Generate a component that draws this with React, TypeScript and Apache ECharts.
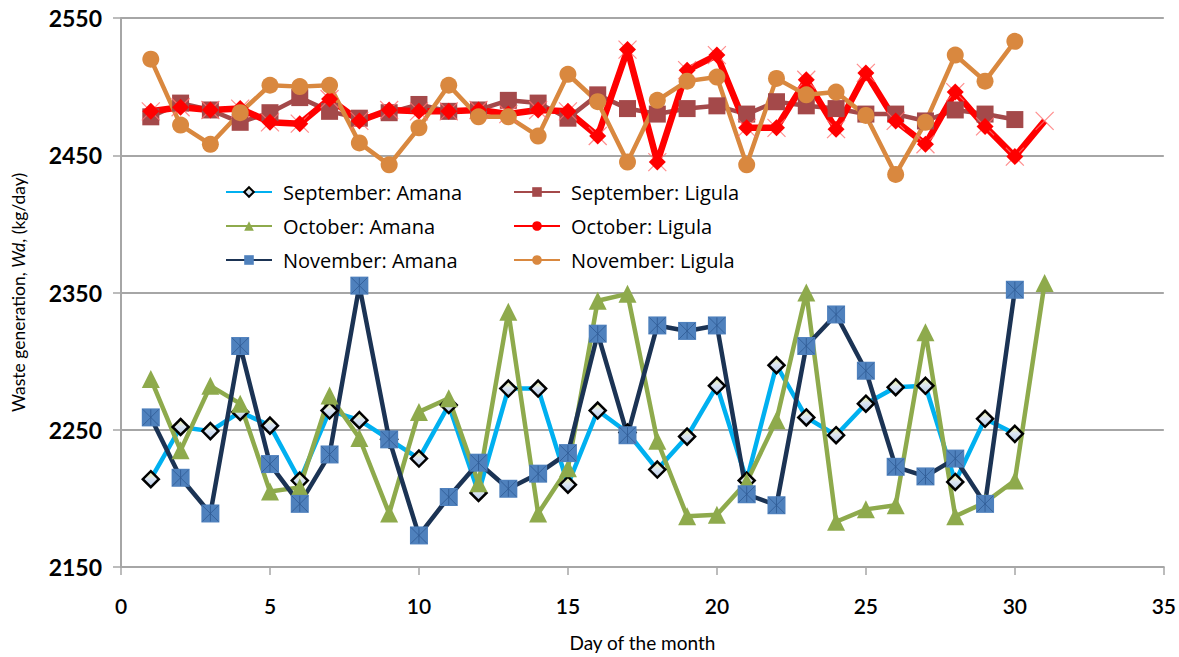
import React, { useEffect, useRef } from "react";
import * as echarts from "echarts";

const DAYS = [1, 2, 3, 4, 5, 6, 7, 8, 9, 10, 11, 12, 13, 14, 15, 16, 17, 18, 19, 20, 21, 22, 23, 24, 25, 26, 27, 28, 29, 30, 31];
const X_TICKS = [0, 5, 10, 15, 20, 25, 30, 35];
const Y_TICKS = [2150, 2250, 2350, 2450, 2550];

const SEPT_AMANA = [2214, 2252, 2249, 2263, 2253, 2213, 2264, 2257, 2243, 2229, 2268, 2204, 2280, 2280, 2210, 2264, 2248, 2221, 2245, 2282, 2213, 2297, 2259, 2246, 2269, 2281, 2282, 2212, 2258, 2247];
const OCT_AMANA = [2287, 2235, 2282, 2269, 2205, 2208, 2275, 2244, 2189, 2263, 2273, 2211, 2336, 2189, 2222, 2344, 2349, 2242, 2187, 2188, 2212, 2257, 2350, 2183, 2192, 2195, 2321, 2187, 2197, 2213, 2357];
const NOV_AMANA = [2259, 2215, 2189, 2311, 2225, 2196, 2232, 2355, 2243, 2173, 2201, 2226, 2207, 2218, 2233, 2320, 2246, 2326, 2322, 2326, 2203, 2195, 2311, 2334, 2293, 2223, 2216, 2229, 2196, 2352];
const SEPT_LIGULA = [2478, 2488, 2483, 2474, 2481, 2492, 2482, 2477, 2481, 2487, 2482, 2483, 2490, 2488, 2477, 2494, 2484, 2480, 2484, 2486, 2480, 2489, 2486, 2484, 2480, 2480, 2475, 2483, 2480, 2476];
const OCT_LIGULA = [2482, 2485, 2483, 2484, 2474, 2473, 2491, 2475, 2483, 2482, 2482, 2483, 2480, 2483, 2482, 2464, 2527, 2445, 2512, 2523, 2470, 2470, 2505, 2469, 2510, 2475, 2458, 2496, 2471, 2449, 2475];
const NOV_LIGULA = [2520, 2472, 2458, 2481, 2501, 2500, 2501, 2459, 2443, 2470, 2501, 2478, 2478, 2464, 2509, 2489, 2445, 2490, 2504, 2507, 2443, 2506, 2494, 2496, 2479, 2436, 2474, 2523, 2504, 2533];

const NAMES = {
  sa: "September: Amana",
  sl: "September: Ligula",
  oa: "October: Amana",
  ol: "October: Ligula",
  na: "November: Amana",
  nl: "November: Ligula",
};

const pts = (vals: number[]) => vals.map((v, i) => [DAYS[i], v]);

const FONT = "Lato, 'Open Sans', sans-serif";
const LEG_FONT = "'Open Sans', Lato, sans-serif";
const X_PATH = "path://M0,0L10,10M10,0L0,10M5,0L5,10";
const X_PATH2 = "path://M0,0L10,10M10,0L0,10";

export default function App() {
  const ref = useRef<HTMLDivElement>(null);
  useEffect(() => {
    if (!ref.current) return;
    const chart = echarts.init(ref.current, undefined, { renderer: "svg" });
    const diamondFill = {
      type: "linear",
      x: 0,
      y: 0,
      x2: 0,
      y2: 1,
      colorStops: [
        { offset: 0, color: "#F4F59A" },
        { offset: 0.45, color: "#DDE6F2" },
        { offset: 1, color: "#B9CCEA" },
      ],
    };
    const legendText = { fontFamily: LEG_FONT, fontSize: 20, color: "#000", lineHeight: 24, padding: [0, 0, 0, 6] };
    const option: any = {
      animation: false,
      backgroundColor: "#ffffff",
      grid: { left: 121, right: 13, top: 18, bottom: 88, containLabel: false },
      legend: [
        {
          data: [NAMES.sa, NAMES.oa, NAMES.na],
          orient: "vertical",
          left: 220,
          top: 175,
          itemWidth: 46,
          itemHeight: 12,
          itemGap: 10,
          textStyle: legendText,
        },
        {
          data: [NAMES.sl, NAMES.ol, NAMES.nl],
          orient: "vertical",
          left: 508,
          top: 175,
          itemWidth: 46,
          itemHeight: 12,
          itemGap: 10,
          textStyle: legendText,
        },
      ],
      xAxis: {
        type: "value",
        min: X_TICKS[0],
        max: X_TICKS[X_TICKS.length - 1],
        interval: X_TICKS[1] - X_TICKS[0],
        name: "Day of the month",
        nameLocation: "middle",
        nameGap: 66,
        nameTextStyle: { fontFamily: FONT, fontSize: 19, color: "#000" },
        axisLine: { show: true, lineStyle: { color: "#A6A6A6", width: 2 } },
        axisTick: { show: true, length: 8, inside: false, lineStyle: { color: "#A6A6A6", width: 1.5 } },
        axisLabel: { fontFamily: FONT, fontSize: 21, fontWeight: 600, color: "#000", margin: 28 },
        splitLine: { show: false },
      },
      yAxis: {
        type: "value",
        min: Y_TICKS[0],
        max: Y_TICKS[Y_TICKS.length - 1],
        interval: Y_TICKS[1] - Y_TICKS[0],
        name: "{n|Waste generation, }{i|Wd}{n|, (kg/day)}",
        nameLocation: "middle",
        nameGap: 94,
        nameRotate: 90,
        nameTextStyle: {
          rich: {
            n: { fontFamily: FONT, fontSize: 17.5, color: "#000" },
            i: { fontFamily: FONT, fontSize: 17.5, color: "#000", fontStyle: "italic" },
          },
        },
        axisLine: { show: true, lineStyle: { color: "#A6A6A6", width: 2 } },
        axisTick: { show: true, length: 8, inside: false, lineStyle: { color: "#A6A6A6", width: 1.5 } },
        axisLabel: {
          fontFamily: FONT,
          fontSize: 23,
          fontWeight: "bold",
          color: "#000",
          margin: 19,
          formatter: (v: number) => String(v),
        },
        splitLine: { show: true, lineStyle: { color: "#A6A6A6", width: 2 } },
      },
      series: [
        {
          name: NAMES.sa,
          type: "line",
          data: pts(SEPT_AMANA),
          symbol: "diamond",
          symbolSize: 16,
          lineStyle: { color: "#00B0F0", width: 4.5 },
          itemStyle: { color: diamondFill, borderColor: "#000", borderWidth: 2.5 },
          z: 2,
        },
        {
          name: NAMES.sl,
          type: "line",
          data: pts(SEPT_LIGULA),
          symbol: "rect",
          symbolSize: 17,
          lineStyle: { color: "#A4494A", width: 4.5 },
          itemStyle: { color: "#A4494A" },
          z: 2,
        },
        {
          name: NAMES.oa,
          type: "line",
          data: pts(OCT_AMANA),
          symbol: "triangle",
          symbolSize: 18,
          lineStyle: { color: "#8EAA4C", width: 4.5 },
          itemStyle: { color: "#8EAA4C" },
          z: 2,
        },
        {
          name: "octX",
          type: "scatter",
          data: pts(OCT_LIGULA),
          symbol: X_PATH2,
          symbolSize: 18,
          itemStyle: { color: "rgba(0,0,0,0)", borderColor: "#FF7070", borderWidth: 1.2 },
          z: 2,
        },
        {
          name: NAMES.ol,
          type: "line",
          data: pts(OCT_LIGULA),
          symbol: (_v: any, p: any) => (p.dataIndex === OCT_LIGULA.length - 1 ? "none" : "diamond"),
          symbolSize: 17,
          lineStyle: { color: "#FF0000", width: 6.5 },
          itemStyle: { color: "#FF0000" },
          z: 2,
        },
        {
          name: NAMES.na,
          type: "line",
          data: pts(NOV_AMANA),
          symbol: "rect",
          symbolSize: 18,
          lineStyle: { color: "#1B3354", width: 4.5 },
          itemStyle: { color: "#4F81BD" },
          z: 2,
        },
        {
          name: "novX",
          type: "scatter",
          data: pts(NOV_AMANA),
          symbol: X_PATH,
          symbolSize: 16,
          itemStyle: { color: "rgba(0,0,0,0)", borderColor: "#2E5A93", borderWidth: 1 },
          z: 3,
        },
        {
          name: NAMES.nl,
          type: "line",
          data: pts(NOV_LIGULA),
          symbol: "circle",
          symbolSize: 17,
          lineStyle: { color: "#D9883F", width: 4.5 },
          itemStyle: { color: "#D9883F" },
          z: 2,
        },
      ],
    };
    chart.setOption(option);
    return () => chart.dispose();
  }, []);
  return (
    <div
      ref={ref}
      style={{ position: "fixed", left: 0, top: 0, width: 1179, height: 657, background: "#fff" }}
    />
  );
}
